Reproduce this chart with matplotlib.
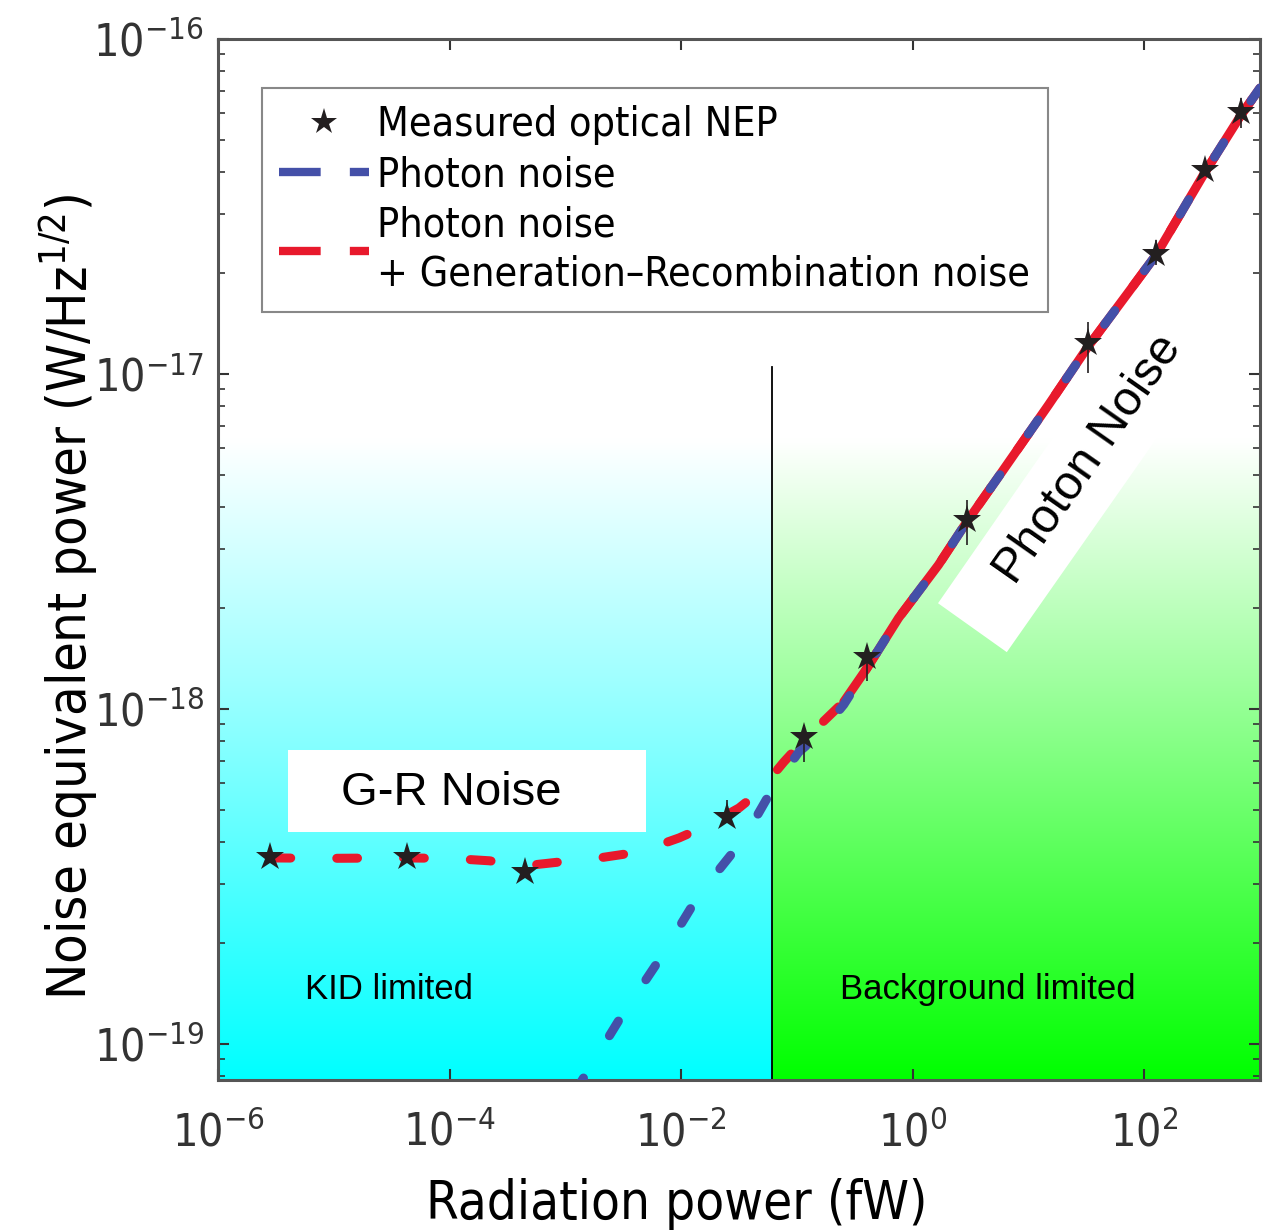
"""NEP vs radiation power for a KID: measured optical NEP compared with
photon noise and photon + generation-recombination noise, with the
KID-limited / background-limited regions shaded.
"""

import matplotlib

matplotlib.use("Agg")
import matplotlib.pyplot as plt
import numpy as np
from matplotlib.lines import Line2D
from matplotlib.patches import Polygon, Rectangle
from matplotlib.ticker import NullLocator

plt.rcParams["font.family"] = ["DejaVu Sans"]
plt.rcParams["font.stretch"] = "condensed"
plt.rcParams["mathtext.fontset"] = "dejavusans"

# measured optical NEP (stars), with the few visible error bar ends
power_meas = [2.81e-6, 4.26e-5, 4.44e-4, 0.0249, 0.115, 0.401, 2.92, 32.9, 127, 336, 686]
nep_meas = [3.62e-19, 3.62e-19, 3.27e-19, 4.75e-19, 8.24e-19, 1.43e-18,
            3.66e-18, 1.24e-17, 2.28e-17, 4.06e-17, 6.05e-17]
nep_lo = [3.62e-19, 3.62e-19, 3.27e-19, 4.75e-19, 6.95e-19, 1.21e-18,
          3.09e-18, 1.01e-17, 2.11e-17, 4.06e-17, 5.42e-17]
nep_hi = [3.62e-19, 3.62e-19, 3.27e-19, 5.35e-19, 8.95e-19, 1.43e-18,
          4.21e-18, 1.43e-17, 2.51e-17, 4.06e-17, 6.67e-17]

# photon noise model (blue)
power_photon = [1.20e-3, 2.92e-3, 6.46e-3, 0.0143, 0.0349, 0.0608, 0.104, 0.155,
                0.254, 0.401, 0.757, 1.67, 2.92, 5.51, 14.9, 32.9, 72.8, 127, 336, 686, 1000]
nep_photon = [7.15e-20, 1.18e-19, 1.78e-19, 2.79e-19, 4.10e-19, 5.73e-19, 7.44e-19, 8.36e-19,
              1.03e-18, 1.32e-18, 1.87e-18, 2.69e-18, 3.61e-18, 4.93e-18, 8.08e-18,
              1.21e-17, 1.75e-17, 2.27e-17, 4.01e-17, 5.93e-17, 7.14e-17]

# photon + generation-recombination noise model (red)
power_total = [2.81e-6, 9.25e-6, 3.71e-5, 1.0e-4, 2.21e-4, 4.44e-4, 8.87e-4, 1.96e-3,
               4.35e-3, 9.62e-3, 0.0174, 0.0316, 0.047, 0.0773, 0.115, 0.16, 0.254,
               0.401, 0.757, 1.67, 2.92, 5.51, 14.9, 32.9, 72.8, 127, 336, 686, 1000]
nep_total = [3.59e-19, 3.58e-19, 3.59e-19, 3.58e-19, 3.52e-19, 3.40e-19, 3.49e-19, 3.59e-19,
             3.74e-19, 4.12e-19, 4.51e-19, 5.06e-19, 5.65e-19, 6.95e-19, 8.07e-19, 9.0e-19,
             1.05e-18, 1.32e-18, 1.87e-18, 2.69e-18, 3.61e-18, 4.93e-18, 8.08e-18,
             1.21e-17, 1.75e-17, 2.27e-17, 4.01e-17, 5.93e-17, 7.14e-17]

x_tick_exps = [-6, -4, -2, 0, 2]
y_tick_exps = [-19, -18, -17, -16]

P_SPLIT = 0.0608       # boundary KID limited / background limited (fW)
SPLIT_LINE_TOP = 1.05e-17
P_OVERLAP = 0.25       # above this both models coincide (red shows in the gaps)
XLIM = (1e-6, 1e3)
YLIM = (7.8e-20, 1e-16)

BLUE = "#4450a8"
RED = "#e8192c"
STAR = "#231f20"
ARIAL = {"family": "Liberation Sans", "stretch": "normal"}


def gradient(rgb, n_cols, fade_top=0.615, n=400):
    """white above fade_top (axes fraction), linear fade to rgb at the bottom"""
    yf = np.linspace(0, 1, n)
    mix = np.clip(1 - yf / fade_top, 0, 1)[:, None]
    col = 1 - mix * (1 - np.array(rgb)[None, :])
    return np.repeat(col[:, None, :], n_cols, axis=1)


def main() -> None:
    fig = plt.figure(figsize=(12.66, 12.30), dpi=100)
    rect = [218 / 1266, 1 - 1080 / 1230, (1260 - 218) / 1266, (1080 - 39) / 1230]

    # shaded background on its own linear axes
    bg = fig.add_axes(rect, zorder=0)
    bg.axis("off")
    split = (np.log10(P_SPLIT) - np.log10(XLIM[0])) / (np.log10(XLIM[1]) - np.log10(XLIM[0]))
    bg.imshow(gradient((0, 1, 1), 2), extent=[0, split, 0, 1], origin="lower",
              aspect="auto", interpolation="bilinear")
    bg.imshow(gradient((0, 1, 0), 2), extent=[split, 1, 0, 1], origin="lower",
              aspect="auto", interpolation="bilinear")
    bg.set_xlim(0, 1)
    bg.set_ylim(0, 1)

    ax = fig.add_axes(rect, zorder=1)
    ax.patch.set_alpha(0)
    ax.set_xscale("log")
    ax.set_yscale("log")
    ax.set_xlim(*XLIM)
    ax.set_ylim(*YLIM)

    # white box behind "Photon Noise"
    ax.add_patch(Polygon([(0.691, 0.458), (0.757, 0.411), (0.939, 0.671), (0.872, 0.719)],
                         closed=True, transform=ax.transAxes, facecolor="white",
                         edgecolor="none", zorder=1))

    ax.plot([P_SPLIT, P_SPLIT], [YLIM[0], SPLIT_LINE_TOP], color="black", lw=1.3, zorder=2)

    pt = np.array(power_total)
    ntot = np.array(nep_total)
    over = pt >= P_OVERLAP
    ax.plot(pt[over], ntot[over], color=RED, lw=6.5, solid_capstyle="round", zorder=2.5)
    ax.plot(pt, ntot, color=RED, lw=6.5, dashes=(2.3, 5.1),
            dash_capstyle="round", zorder=3)
    ax.plot(power_photon, nep_photon, color=BLUE, lw=6.5, dashes=(1.9, 5.5),
            dash_capstyle="round", zorder=4)

    yerr = [np.array(nep_meas) - np.array(nep_lo), np.array(nep_hi) - np.array(nep_meas)]
    ax.errorbar(power_meas, nep_meas, yerr=yerr, fmt="none", ecolor=STAR,
                elinewidth=1.2, capsize=0, zorder=5)
    ax.plot(power_meas, nep_meas, ls="none", marker="*", ms=21, color=STAR,
            markeredgewidth=0, zorder=6)

    # annotations
    ax.add_patch(Rectangle((0.0672, 0.2382), 0.3435, 0.0788, transform=ax.transAxes,
                           facecolor="white", edgecolor="none", zorder=7))
    ax.text(0.224, 0.276, "G-R Noise", transform=ax.transAxes, fontsize=34,
            ha="center", va="center", zorder=8, **ARIAL)
    ax.text(0.164, 0.0865, "KID limited", transform=ax.transAxes, fontsize=25,
            ha="center", va="center", zorder=8, **ARIAL)
    ax.text(0.739, 0.0865, "Background limited", transform=ax.transAxes, fontsize=25,
            ha="center", va="center", zorder=8, **ARIAL)
    ax.text(0.835, 0.5965, "Photon Noise", transform=ax.transAxes, fontsize=35,
            ha="center", va="center", rotation=55, rotation_mode="anchor",
            zorder=8, **ARIAL)

    # axes cosmetics
    ax.set_xticks([10.0 ** e for e in x_tick_exps])
    ax.set_xticklabels([rf"$10^{{{e}}}$" for e in x_tick_exps])
    ax.xaxis.set_minor_locator(NullLocator())
    ax.set_yticks([10.0 ** e for e in y_tick_exps])
    ax.set_yticklabels([rf"$10^{{{e}}}$" for e in y_tick_exps])
    ax.tick_params(which="both", direction="in", top=True, right=True, colors="#333333")
    ax.tick_params(which="major", length=8, width=1.5, labelsize=32)
    ax.tick_params(axis="x", which="major", pad=22)
    ax.tick_params(axis="y", which="major", pad=10)
    ax.tick_params(which="minor", length=5, width=1.2)
    for sp in ax.spines.values():
        sp.set_color("#555555")
        sp.set_linewidth(2.2)

    ax.set_xlabel("Radiation power (fW)", fontsize=38)
    ax.xaxis.set_label_coords(0.4405, -0.094)
    ax.set_ylabel(r"Noise equivalent power (W/Hz$^{1/2}$)", fontsize=39)
    ax.yaxis.set_label_coords(-0.113, 0.4645)

    handles = [
        Line2D([], [], ls="none", marker="*", ms=20, color=STAR, markeredgewidth=0),
        Line2D([], [], color=BLUE, lw=6, dashes=(5, 3.5)),
        Line2D([], [], color=RED, lw=6, dashes=(5, 3.5)),
    ]
    labels = ["Measured optical NEP", "Photon noise",
              "Photon noise\n+ Generation\u2013Recombination noise"]
    leg = ax.legend(handles, labels, loc="upper left", bbox_to_anchor=(0.042, 0.953),
                    borderaxespad=0, fontsize=29.5, handlelength=2.2, handletextpad=0.2,
                    labelspacing=0.25, fancybox=False, framealpha=1, borderpad=0.42)
    for t in leg.get_texts():
        t.set_linespacing(1.3)
    leg.get_frame().set_edgecolor("#888888")
    leg.get_frame().set_linewidth(1.5)
    leg.set_zorder(10)

    fig.savefig("out.png", dpi=100)


if __name__ == "__main__":
    main()
